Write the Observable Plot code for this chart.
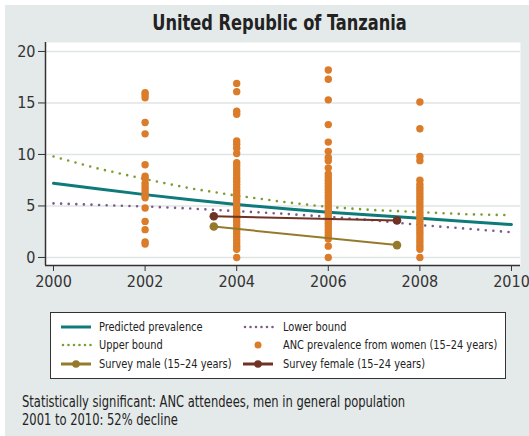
<!DOCTYPE html>
<html><head><meta charset="utf-8">
<script src="https://cdn.jsdelivr.net/npm/d3@7"></script>
<script src="https://cdn.jsdelivr.net/npm/@observablehq/plot@0.6"></script>
<style>
body{margin:0;background:#fff;}
#wrap{position:relative;width:529px;height:436px;overflow:hidden;font-family:"DejaVu Sans Condensed","DejaVu Sans",sans-serif;color:#222;}
#bg{position:absolute;left:5px;top:5px;right:0;bottom:0;background:#e4e9e9;}
#title{position:absolute;left:30px;right:0;top:10px;text-align:center;font-weight:bold;font-size:22px;color:#222;transform:scaleX(0.82);transform-origin:center;}
#chart{position:absolute;left:0;top:0;}
#legend{position:absolute;left:50px;top:312px;width:454px;height:65px;border:1px solid #333;background:#fff;}
.li{position:absolute;font-size:13px;line-height:18px;white-space:nowrap;transform:scaleX(0.84);transform-origin:left center;}
.ls{position:absolute;}
#caption{position:absolute;left:22px;top:393px;font-size:16px;line-height:18px;white-space:nowrap;transform:scaleX(0.8);transform-origin:left top;}
</style></head>
<body>
<div id="wrap">
<div id="bg"></div>
<div id="title">United Republic of Tanzania</div>
<div id="chart"></div>
<div id="legend"></div>
<div id="caption">Statistically significant: ANC attendees, men in general population<br>2001 to 2010: 52% decline</div>
</div>
<script>
// ---- data ----
const years = [2000, 2001, 2002, 2003, 2004, 2005, 2006, 2007, 2008, 2009, 2010];
const predicted = [7.2, 6.65, 6.1, 5.6, 5.15, 4.75, 4.4, 4.1, 3.8, 3.5, 3.2];
const upper = [9.8, 8.6, 7.6, 6.7, 6.0, 5.4, 4.9, 4.6, 4.4, 4.2, 4.1];
const lower = [5.25, 5.1, 4.95, 4.75, 4.5, 4.25, 3.95, 3.6, 3.15, 2.8, 2.45];
const surveyYears = [2003.5, 2007.5];
const surveyMale = [3.0, 1.2];
const surveyFemale = [4.0, 3.6];
const ancYears = [2002, 2004, 2006, 2008];
const anc2002 = [16.0, 15.8, 15.5, 13.1, 12.0, 9.0, 7.9, 7.7, 7.2, 6.9, 6.6, 6.3, 6.0, 5.8, 4.8, 3.5, 2.7, 1.5, 1.3];
const anc2004 = [16.9, 16.1, 14.2, 13.9, 11.3, 11.0, 10.6, 10.1, 9.2, 8.9, 8.6, 8.3, 8.0, 7.7, 7.4, 7.1, 6.8, 6.5, 6.2, 5.9, 5.6, 5.3, 5.0, 4.7, 4.4, 4.1, 3.8, 3.5, 3.2, 2.9, 2.6, 2.3, 2.0, 1.7, 1.4, 1.1, 0.8, 0.0];
const anc2006 = [18.2, 17.3, 15.3, 12.9, 11.2, 10.3, 9.7, 9.4, 8.7, 8.1, 7.8, 7.5, 7.2, 6.9, 6.6, 6.3, 6.0, 5.7, 5.4, 5.1, 4.8, 4.5, 4.2, 3.9, 3.6, 3.3, 3.0, 2.7, 2.4, 2.1, 1.8, 1.1, 0.0];
const anc2008 = [15.1, 12.5, 9.8, 9.4, 7.5, 7.1, 6.8, 6.5, 6.2, 5.9, 5.6, 5.3, 5.0, 4.7, 4.4, 4.1, 3.8, 3.5, 3.2, 2.9, 2.6, 2.3, 2.0, 1.7, 1.4, 1.1, 0.8, 0.0];
const xTicks = [2000, 2002, 2004, 2006, 2008, 2010];
const yTicks = [0, 5, 10, 15, 20];

const C = {pred:"#0e7a7a", up:"#7b9d2f", low:"#7b5a8c", anc:"#da7c29", male:"#957a2c", female:"#6e3325"};

const curves = years.map((y,i)=>({year:y, pred:predicted[i], up:upper[i], low:lower[i]}));
const survey = surveyYears.map((y,i)=>({year:y, male:surveyMale[i], female:surveyFemale[i]}));
const ancAll = [anc2002, anc2004, anc2006, anc2008];
const anc = ancYears.flatMap((y,i)=>ancAll[i].map(v=>({year:y, v})));

const xDom = [1999.825, 2010.197];
const yDom = [-0.78, 20.87];
const font = '"DejaVu Sans Condensed","DejaVu Sans",sans-serif';

const dotted = {strokeWidth:2.6, strokeDasharray:"0,7.6", strokeLinecap:"round"};

const plot = Plot.plot({
  width:529, height:300,
  marginLeft:45, marginRight:9, marginTop:42, marginBottom:35,
  style:{background:"transparent", fontFamily:font, fontSize:"16px", color:"#333"},
  x:{domain:xDom, ticks:xTicks, tickFormat:d=>String(d)},
  y:{domain:yDom, ticks:yTicks},
  marks:[
    Plot.frame({fill:"white", stroke:null}),
    Plot.gridY(yTicks, {stroke:"#dfe5e5", strokeOpacity:1, strokeWidth:1.6}),
    Plot.line(curves, {x:"year", y:"up", stroke:C.up, ...dotted}),
    Plot.line(curves, {x:"year", y:"low", stroke:C.low, ...dotted}),
    Plot.line(curves, {x:"year", y:"pred", stroke:C.pred, strokeWidth:3}),
    Plot.dot(anc, {x:"year", y:"v", r:3.7, fill:C.anc, stroke:null}),
    Plot.line(survey, {x:"year", y:"male", stroke:C.male, strokeWidth:2}),
    Plot.dot(survey, {x:"year", y:"male", r:4.3, fill:C.male}),
    Plot.line(survey, {x:"year", y:"female", stroke:C.female, strokeWidth:2}),
    Plot.dot(survey, {x:"year", y:"female", r:4.3, fill:C.female}),
    Plot.ruleX([xDom[0]], {stroke:"#333", strokeWidth:1.5}),
    Plot.ruleY([yDom[0]], {stroke:"#333", strokeWidth:1.5}),
    Plot.axisX({ticks:xTicks, tickFormat:d=>String(d), tickSize:6, tickPadding:4, label:null, fontSize:16, stroke:"#333"}),
    Plot.axisY({ticks:yTicks, tickSize:7, tickPadding:3, label:null, fontSize:16, stroke:"#333"})
  ]
});
document.getElementById("chart").appendChild(plot);

// ---- legend ----
const legendItems = [
  {label:"Predicted prevalence", col:0, row:0, kind:"line", color:C.pred},
  {label:"Lower bound", col:1, row:0, kind:"dots", color:C.low},
  {label:"Upper bound", col:0, row:1, kind:"dots", color:C.up},
  {label:"ANC prevalence from women (15–24 years)", col:1, row:1, kind:"point", color:C.anc},
  {label:"Survey male (15–24 years)", col:0, row:2, kind:"linept", color:C.male},
  {label:"Survey female (15–24 years)", col:1, row:2, kind:"linept", color:C.female}
];
const leg = document.getElementById("legend");
const colSym = [9, 191], colTxt = [48, 232], rowY = [13.5, 32, 50.5];
legendItems.forEach(it=>{
  const s = document.createElementNS("http://www.w3.org/2000/svg","svg");
  s.setAttribute("width",32); s.setAttribute("height",10);
  s.setAttribute("class","ls");
  s.style.left = colSym[it.col]+"px"; s.style.top = (rowY[it.row]-5)+"px";
  let inner = "";
  if (it.kind==="line") inner = `<line x1="1" x2="31" y1="5" y2="5" stroke="${it.color}" stroke-width="3"/>`;
  if (it.kind==="dots") inner = `<line x1="3" x2="31" y1="5" y2="5" stroke="${it.color}" stroke-width="2.6" stroke-dasharray="0,5.5" stroke-linecap="round"/>`;
  if (it.kind==="point") inner = `<circle cx="16" cy="5" r="3.5" fill="${it.color}"/>`;
  if (it.kind==="linept") inner = `<line x1="1" x2="31" y1="5" y2="5" stroke="${it.color}" stroke-width="3"/><circle cx="16" cy="5" r="3.8" fill="${it.color}"/>`;
  s.innerHTML = inner;
  leg.appendChild(s);
  const t = document.createElement("div");
  t.className = "li"; t.textContent = it.label;
  t.style.left = colTxt[it.col]+"px"; t.style.top = (rowY[it.row]-9)+"px";
  leg.appendChild(t);
});
</script>
</body></html>
